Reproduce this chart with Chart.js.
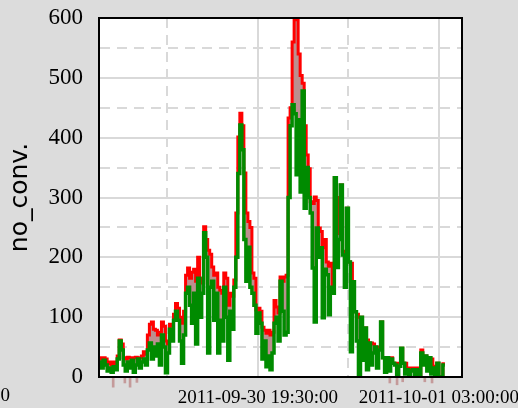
<!DOCTYPE html>
<html>
<head>
<meta charset="utf-8">
<script src="https://cdn.jsdelivr.net/npm/chart.js@4.4.1/dist/chart.umd.min.js"></script>
<style>
  html, body { margin: 0; padding: 0; background: #dcdcdc; }
  #wrap { width: 518px; height: 408px; }
</style>
</head>
<body>
<div id="wrap"><canvas id="c" width="518" height="408"></canvas></div>
<script>
// minutes after 2011-09-30 12:00:00, one sample every 5 minutes
const startMinute = 55;
const stepMinutes = 5;

// upper band (red)
const upper = [
  32, 30, 32, 30, 22, 25, 20, 25, 22, 35, 62, 55,
  32, 30, 33, 32, 30, 32, 33, 30, 32, 35, 42, 38,
  70, 88, 92, 80, 78, 70, 75, 92, 85, 60, 55, 88, 85, 105,
  123, 115, 100, 90, 110, 170, 182, 165, 175, 180, 160, 200,
  165, 157, 251, 230, 212, 205, 184, 170, 174, 150, 145, 140,
  174, 165, 120, 140, 135, 162, 274, 401, 441, 420, 341,
  274, 260, 250, 174, 165, 112, 115, 110, 83, 78, 73,
  78, 70, 75, 128, 117, 107, 167, 160, 167, 170,
  433, 450, 560, 597, 600, 540, 504, 491, 420, 371, 348,
  293, 290, 301, 295, 249, 243, 216, 230, 192, 185, 190, 149,
  333, 300, 240, 321, 210, 204, 282, 192, 190, 159,
  109, 105, 100, 100, 82, 82, 62, 57, 57, 55, 50, 50, 50, 92,
  32, 32, 32, 32, 32, 23, 23, 23, 23, 48, 23, 23,
  15, 12, 15, 15, 12, 15, 0, 45, 35, 35, 30, 32, 30,
  18, 10, 23, 0, 0, 22, 22
];

// mean (green)
const mean = [
  25, 15, 28, 20, 10, 15, 8, 17, 12, 30, 60, 45,
  20, 10, 25, 15, 28, 8, 20, 30, 15, 25, 30, 20,
  45, 57, 30, 50, 35, 55, 20, 70, 50, 7, 40, 80, 60, 95,
  110, 95, 60, 23, 70, 140, 150, 120, 90, 140, 55, 165,
  100, 140, 241, 200, 40, 150, 160, 95, 140, 40, 95, 60,
  150, 100, 28, 110, 80, 150, 200, 340, 421, 380, 230,
  160, 217, 150, 140, 120, 73, 107, 90, 30, 60, 17,
  35, 12, 40, 90, 100, 60, 160, 110, 70, 75,
  300, 420, 455, 440, 338, 430, 309, 478, 282, 350, 300,
  274, 182, 92, 249, 200, 216, 99, 180, 171, 104, 150, 140,
  333, 183, 230, 321, 204, 150, 282, 192, 42, 159,
  109, 60, 3, 100, 28, 82, 12, 57, 20, 40, 50, 15, 45, 92,
  32, 8, 32, 10, 30, 23, 20, 2, 18, 48, 23, 5,
  12, 0, 10, 12, 0, 12, 0, 40, 20, 35, 10, 32, 5,
  15, 0, 23, 0, 0, 20, 20
];

// lower band tails that poke below zero
const tailMinutes = [90, 119, 132, 149, 778, 796, 810, 865, 883];
const tailValues  = [-17, -10, -17, -9, -10, -13, -8, -8, -10];

const xTickMinutes = [225, 450, 675, 900];
const xTickLabels = { 450: '2011-09-30 19:30:00', 900: '2011-10-01 03:00:00' };
const clippedLabel = '2011-09-30 12:00:00';
const yTickValues = [0, 100, 200, 300, 400, 500, 600];

const toPoints = arr => arr.map((v, i) => ({ x: startMinute + i * stepMinutes, y: v }));

const gridColor = '#d9d9d9';
const serif = '"Liberation Serif", "Times New Roman", serif';
const xFontSize = 19;

const frame = {
  id: 'frame',
  beforeDraw(chart) {
    const { ctx, chartArea: a } = chart;
    ctx.save();
    ctx.fillStyle = '#fff';
    ctx.fillRect(a.left, a.top, a.right - a.left, a.bottom - a.top);
    ctx.restore();
  },
  afterDraw(chart) {
    const { ctx, chartArea: a } = chart;
    ctx.save();
    ctx.strokeStyle = '#000';
    ctx.lineWidth = 2;
    ctx.strokeRect(a.left, a.top, a.right - a.left, a.bottom - a.top);
    // label of the tick left of the visible range, mostly cut off
    const xs = chart.scales.x;
    ctx.font = xFontSize + 'px ' + serif;
    ctx.fillStyle = '#000';
    ctx.textAlign = 'right';
    ctx.textBaseline = 'top';
    ctx.fillText(clippedLabel, 10, xs.top + 10);
    ctx.restore();
  }
};

new Chart(document.getElementById('c'), {
  type: 'line',
  data: {
    datasets: [
      {
        label: 'mean',
        data: toPoints(mean),
        borderColor: '#008b00',
        borderWidth: 3.5,
        stepped: 'before',
        pointRadius: 0,
        fill: false,
        borderJoinStyle: 'miter'
      },
      {
        label: 'upper',
        data: toPoints(upper),
        borderColor: '#ff0000',
        backgroundColor: '#bc8f8f',
        borderWidth: 3,
        stepped: 'before',
        pointRadius: 0,
        fill: 0,
        borderJoinStyle: 'miter'
      },
      {
        type: 'bar',
        label: 'tails',
        data: tailMinutes.map((m, i) => ({ x: m, y: tailValues[i] })),
        backgroundColor: '#c49a9a',
        barThickness: 2,
        clip: { left: 0, top: 0, right: 0, bottom: 14 }
      }
    ]
  },
  options: {
    responsive: false,
    animation: false,
    events: [],
    devicePixelRatio: 1,
    layout: { padding: { left: 0, top: 18, right: 56, bottom: 0 } },
    plugins: { legend: { display: false }, tooltip: { enabled: false } },
    scales: {
      x: {
        type: 'linear',
        offset: false,
        min: 54.7,
        max: 957.5,
        afterBuildTicks: s => { s.ticks = xTickMinutes.map(v => ({ value: v })); },
        afterFit: s => { s.height = 31; s.paddingLeft = 0; s.paddingRight = 0; },
        ticks: {
          autoSkip: false,
          maxRotation: 0,
          padding: 10,
          color: '#000',
          font: { family: serif, size: xFontSize },
          callback: v => xTickLabels[v] || ''
        },
        grid: { color: gridColor, lineWidth: 2, drawTicks: false, offset: false },
        border: {
          display: true, color: '#000', width: 2,
          dash: ctx => (ctx.tick && !xTickLabels[ctx.tick.value]) ? [10, 7] : []
        }
      },
      y: {
        min: 0,
        max: 600,
        afterBuildTicks: s => {
          const t = [];
          for (let v = 0; v <= 600; v += 50) t.push({ value: v });
          s.ticks = t;
        },
        afterFit: s => { s.width = 99; s.paddingTop = 0; s.paddingBottom = 0; },
        ticks: {
          autoSkip: false,
          padding: 16,
          color: '#000',
          font: { family: serif, size: 23 },
          callback: v => yTickValues.includes(v) ? String(v) : ''
        },
        grid: { color: gridColor, lineWidth: 2, drawTicks: false },
        border: {
          display: true, color: '#000', width: 2,
          dash: ctx => (ctx.tick && !yTickValues.includes(ctx.tick.value)) ? [10, 7] : []
        },
        title: {
          display: true,
          text: 'no_conv.',
          color: '#000',
          font: { family: '"DejaVu Sans", sans-serif', size: 25 },
          padding: { top: 5, bottom: 0 }
        }
      }
    }
  },
  plugins: [frame]
});
</script>
</body>
</html>
